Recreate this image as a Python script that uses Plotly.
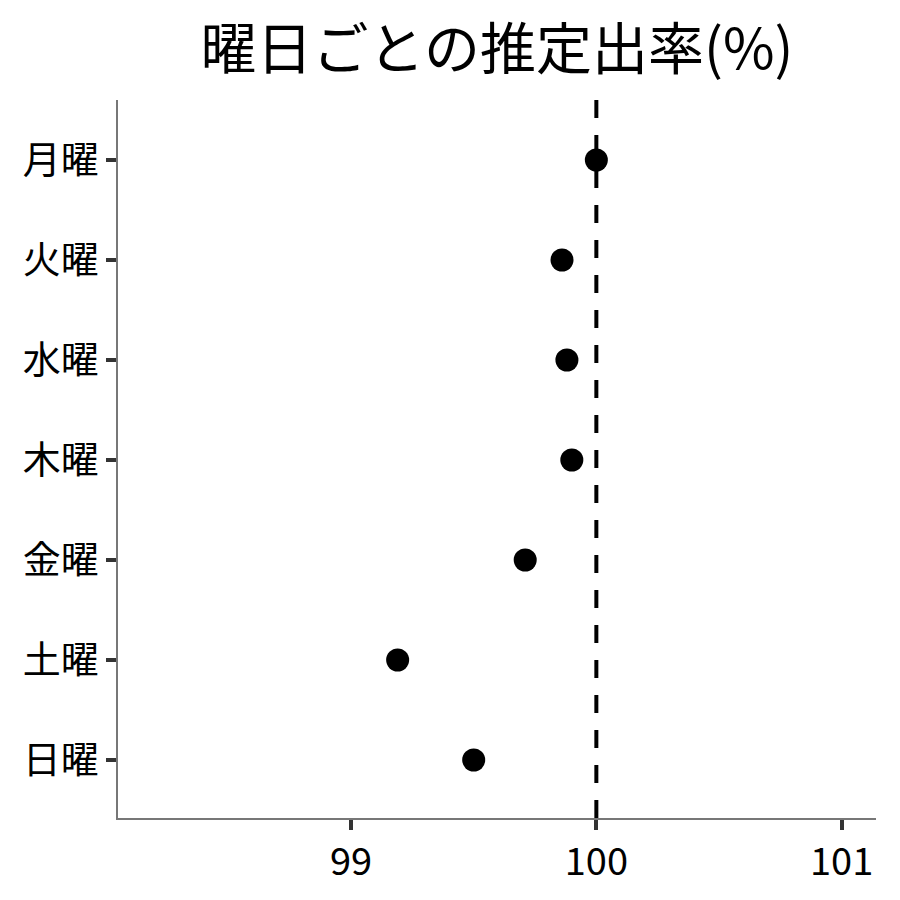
import plotly.graph_objects as go

days = ["月曜", "火曜", "水曜", "木曜", "金曜", "土曜", "日曜"]
rates = [100.0, 99.86, 99.88, 99.90, 99.71, 99.19, 99.50]
x_ticks = [99, 100, 101]
ref_value = 100
title_text = "曜日ごとの推定出率(%)"

FONT = "Noto Sans CJK JP"

fig = go.Figure()
fig.add_trace(go.Scatter(
    x=rates, y=days, mode="markers",
    marker=dict(color="black", size=23),
    showlegend=False,
))
fig.add_shape(type="line", x0=ref_value, x1=ref_value, xref="x", yref="paper", y0=0, y1=1,
              line=dict(color="black", width=4, dash="18px,17px"))

fig.update_layout(
    width=900, height=900,
    margin=dict(l=110, r=32, t=92, b=90, autoexpand=False),
    paper_bgcolor="white", plot_bgcolor="white",
    font=dict(family=FONT, color="black"),
    title=dict(text=title_text, x=0.5, xref="paper", xanchor="center",
               y=0.954, yref="container", yanchor="middle",
               font=dict(size=56, family=FONT, color="black")),
)
fig.update_xaxes(
    range=[98.05, 101.14], tickvals=x_ticks, ticktext=[str(v) for v in x_ticks],
    showgrid=False, zeroline=False, showline=True, linecolor="#777", linewidth=1.5,
    ticks="outside", ticklen=10, tickwidth=3.5, tickcolor="#333", automargin=False,
    tickfont=dict(size=38, family=FONT, color="black"),
)
fig.update_yaxes(
    type="category", categoryorder="array", categoryarray=days[::-1],
    range=[-0.58, 6.6],
    showgrid=False, zeroline=False, showline=True, linecolor="#777", linewidth=1.5,
    ticks="outside", ticklen=10, tickwidth=3.5, tickcolor="#333", automargin=False,
    tickfont=dict(size=38, family=FONT, color="black"),
)

fig.write_html("out.html")
